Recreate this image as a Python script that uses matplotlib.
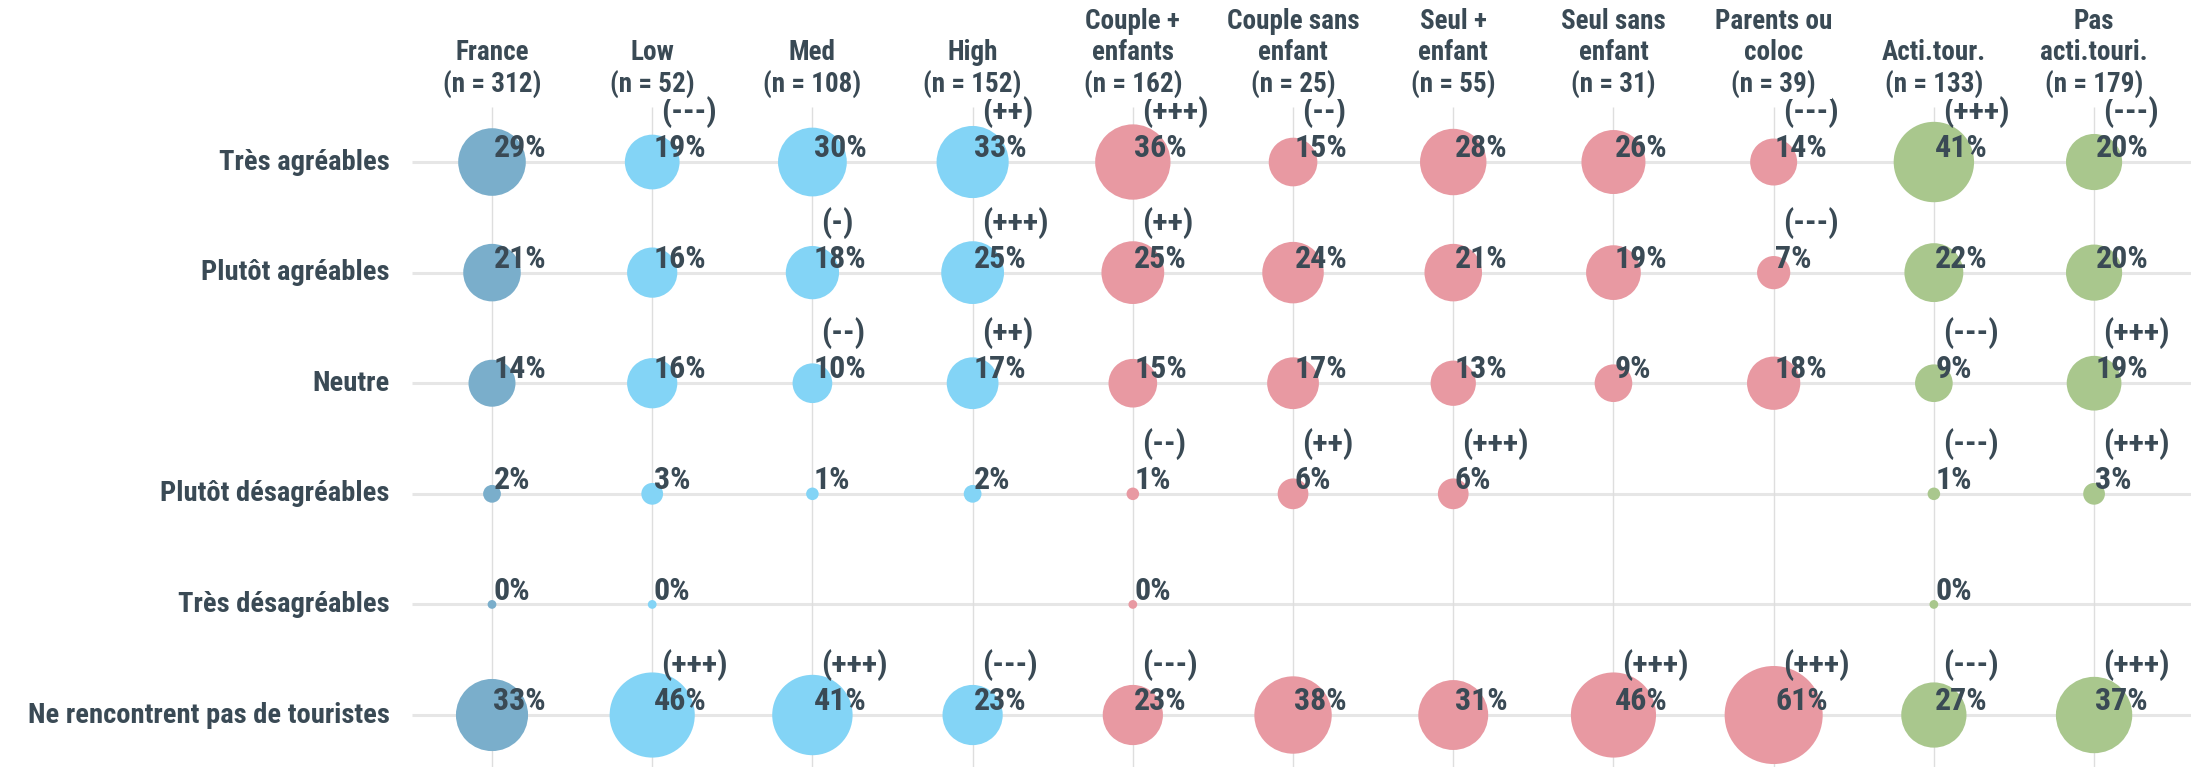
import numpy as np
import matplotlib
matplotlib.use("Agg")
import matplotlib.pyplot as plt

plt.rcParams['font.family'] = ['Roboto Condensed', 'DejaVu Sans']
plt.rcParams['font.stretch'] = 'condensed'

# columns
groups = ["France\n(n = 312)", "Low\n(n = 52)", "Med\n(n = 108)", "High\n(n = 152)",
          "Couple +\nenfants\n(n = 162)", "Couple sans\nenfant\n(n = 25)",
          "Seul +\nenfant\n(n = 55)", "Seul sans\nenfant\n(n = 31)",
          "Parents ou\ncoloc\n(n = 39)", "Acti.tour.\n(n = 133)", "Pas\nacti.touri.\n(n = 179)"]
# rows
answers = ["Très agréables", "Plutôt agréables", "Neutre", "Plutôt désagréables",
           "Très désagréables", "Ne rencontrent pas de touristes"]

N = None
tres_agr = [29, 19, 30, 33, 36, 15, 28, 26, 14, 41, 20]
plutot_agr = [21, 16, 18, 25, 25, 24, 21, 19, 7, 22, 20]
neutre = [14, 16, 10, 17, 15, 17, 13, 9, 18, 9, 19]
plutot_des = [2, 3, 1, 2, 1, 6, 6, N, N, 1, 3]
tres_des = [0, 0, N, N, 0, N, N, N, N, 0, N]
pas_touristes = [33, 46, 41, 23, 23, 38, 31, 46, 61, 27, 37]
values = [tres_agr, plutot_agr, neutre, plutot_des, tres_des, pas_touristes]

sig_tres_agr = ["", "(---)", "", "(++)", "(+++)", "(--)", "", "", "(---)", "(+++)", "(---)"]
sig_plutot_agr = ["", "", "(-)", "(+++)", "(++)", "", "", "", "(---)", "", ""]
sig_neutre = ["", "", "(--)", "(++)", "", "", "", "", "", "(---)", "(+++)"]
sig_plutot_des = ["", "", "", "", "(--)", "(++)", "(+++)", "", "", "(---)", "(+++)"]
sig_tres_des = [""] * 11
sig_pas_touristes = ["", "(+++)", "(+++)", "(---)", "(---)", "", "", "(+++)", "(+++)", "(---)", "(+++)"]
signif = [sig_tres_agr, sig_plutot_agr, sig_neutre, sig_plutot_des, sig_tres_des, sig_pas_touristes]

col_colors = ["#7aaecb", "#83d4f6", "#83d4f6", "#83d4f6",
              "#e899a2", "#e899a2", "#e899a2", "#e899a2", "#e899a2",
              "#a9c78d", "#a9c78d"]
txt_color = "#3a4a55"

fig = plt.figure(figsize=(21.91, 7.67), dpi=100)
ax = fig.add_axes([0, 0, 1, 1])
ax.set_xlim(-3.071, 10.605)
ax.set_ylim(5.47, -1.465)
ax.axis("off")

ncol = len(groups)
nrow = len(answers)

# grid
ax.hlines(range(nrow), -0.5, 10.605, color="#e6e6e6", lw=2.2, zorder=0)
ax.vlines(range(ncol), -0.5, 5.47, color="#dedede", lw=1, zorder=0)

for r in range(nrow):
    ax.text(-0.64, r, answers[r], ha="right", va="center", fontsize=20.5,
            fontweight="bold", color=txt_color)
    for c in range(ncol):
        v = values[r][c]
        if v is None:
            continue
        s = max(81.7 * v, 40)
        ax.scatter(c, r, s=s, color=col_colors[c], edgecolors="none", zorder=2)
        ax.annotate(f"{v}%", (c, r), xytext=(1, 3.5), textcoords="offset points",
                    ha="left", va="baseline", fontsize=23, fontweight="bold",
                    color=txt_color, zorder=3)
        if signif[r][c]:
            ax.annotate(signif[r][c], (c, r), xytext=(6.5, 36), textcoords="offset points",
                        ha="left", va="center", fontsize=23, fontweight="bold",
                        color=txt_color, zorder=3)

# headers
for c in range(ncol):
    ax.text(c, 1 - 99 / 767, groups[c], transform=ax.get_xaxis_transform(),
            ha="center", va="bottom", fontsize=19.5, fontweight="bold",
            color=txt_color, linespacing=1.2, zorder=4,
            bbox=dict(facecolor="white", edgecolor="none", pad=0))

fig.savefig("out.png", dpi=100)
